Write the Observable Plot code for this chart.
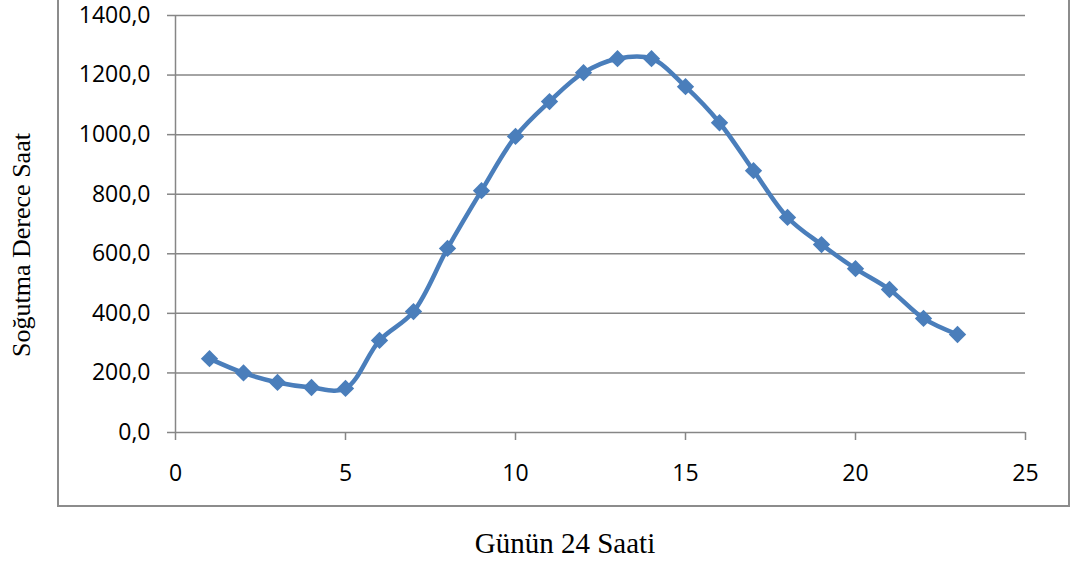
<!DOCTYPE html>
<html>
<head>
<meta charset="utf-8">
<script src="https://cdn.jsdelivr.net/npm/d3@7"></script>
<script src="https://cdn.jsdelivr.net/npm/@observablehq/plot@0.6"></script>
<style>
  html, body { margin: 0; padding: 0; background: #fff; overflow: hidden; }
  #wrap { position: relative; width: 1071px; height: 565px; }
  #frame { position: absolute; left: 57px; top: -6px; width: 1009px; height: 509px; border: 2px solid #8c8c8c; box-sizing: content-box; pointer-events: none; }
  .title { position: absolute; font-family: "Liberation Serif", "DejaVu Serif", serif; font-size: 29px; color: #000; white-space: nowrap; line-height: 1; }
  #xt { left: 565px; top: 543px; transform: translate(-50%, -50%); }
  #yt { left: 22px; top: 245px; font-size: 26px; transform: translate(-50%, -50%) rotate(-90deg); }
</style>
</head>
<body>
<div id="wrap">
  <div id="chart"></div>
  <div id="frame"></div>
  <div class="title" id="xt">Günün 24 Saati</div>
  <div class="title" id="yt">Soğutma Derece Saat</div>
</div>
<script>
const hours = [1,2,3,4,5,6,7,8,9,10,11,12,13,14,15,16,17,18,19,20,21,22,23];
const values = [248,200,168,151,148,309,406,618,812,994,1111,1208,1255,1255,1161,1040,879,722,631,550,480,383,329];
const xTicks = [0,5,10,15,20,25];
const yTicks = [0,200,400,600,800,1000,1200,1400];

const data = hours.map((h, i) => ({hour: h, value: values[i]}));
const gray = "#868686";
const blue = "#4a7ebb";

const chart = Plot.plot({
  width: 1071,
  height: 565,
  marginLeft: 175,
  marginRight: 46,
  marginTop: 15,
  marginBottom: 133,
  style: {fontFamily: "'Open Sans', sans-serif", fontSize: "23px", color: "#000", background: "transparent"},
  x: {domain: [0, 25]},
  y: {domain: [0, 1400]},
  marks: [
    Plot.gridY(yTicks, {stroke: gray, strokeOpacity: 1, strokeWidth: 1.5}),
    Plot.ruleX([0], {stroke: gray, strokeWidth: 1.5}),
    Plot.axisY(yTicks, {tickSize: 8, tickPadding: 17, stroke: gray, strokeWidth: 1.5, fill: "#000", fontSize: 23, label: null,
      tickFormat: d => d.toFixed(1).replace(".", ",")}),
    Plot.axisX(xTicks, {tickSize: 8, tickPadding: 24, stroke: gray, strokeWidth: 1.5, fill: "#000", fontSize: 23, label: null}),
    Plot.line(data, {x: "hour", y: "value", curve: "catmull-rom", stroke: blue, strokeWidth: 4.5}),
    Plot.dot(data, {x: "hour", y: "value", symbol: "diamond2", r: 7.8, fill: blue, stroke: null})
  ]
});
document.getElementById("chart").appendChild(chart);
</script>
</body>
</html>
